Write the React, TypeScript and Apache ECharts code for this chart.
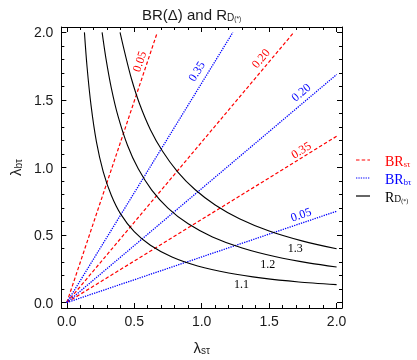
import React, { useEffect, useRef } from "react";
import * as echarts from "echarts";

// ---- data ----
const majorTicks = [0, 0.5, 1, 1.5, 2];
const tickLabels = ["0.0", "0.5", "1.0", "1.5", "2.0"];
const minorTicks = [0.1, 0.2, 0.3, 0.4, 0.6, 0.7, 0.8, 0.9, 1.1, 1.2, 1.3, 1.4, 1.6, 1.7, 1.8, 1.9];

// BR_sτ contours (straight lines from origin): label + end point
const brSLabels = ["0.05", "0.20", "0.35"];
const brSEnds = [[0.671, 2.0], [1.683, 2.0], [2.0, 1.231]];

// BR_bτ contours
const brBLabels = ["0.35", "0.20", "0.05"];
const brBEnds = [[1.231, 2.0], [2.0, 1.688], [2.0, 0.676]];

// R_D(*) contours
const rdLabels = ["1.1", "1.2", "1.3"];
const rd11 = [[0.131, 2.0], [0.15, 1.75], [0.18, 1.46], [0.22, 1.19], [0.27, 0.97], [0.33, 0.795], [0.40, 0.655], [0.50, 0.525], [0.62, 0.424], [0.78, 0.337], [0.97, 0.271], [1.2, 0.219], [1.45, 0.181], [1.72, 0.153], [2.0, 0.133]];
const rd12 = [[0.262, 2.0], [0.29, 1.81], [0.33, 1.59], [0.38, 1.38], [0.45, 1.165], [0.53, 0.99], [0.63, 0.833], [0.75, 0.70], [0.9, 0.583], [1.08, 0.486], [1.3, 0.404], [1.55, 0.339], [1.8, 0.292], [2.0, 0.264]];
const rd13 = [[0.395, 2.0], [0.43, 1.85], [0.48, 1.655], [0.54, 1.47], [0.62, 1.28], [0.71, 1.12], [0.82, 0.97], [0.95, 0.837], [1.1, 0.723], [1.28, 0.621], [1.5, 0.53], [1.75, 0.455], [2.0, 0.398]];
const rdCurves = [rd11, rd12, rd13];

// ---- layout (label anchor positions in data coords) ----
const brSLabelPos = [[0.538, 1.784], [1.438, 1.807], [1.736, 1.129]];
const brBLabelPos = [[0.962, 1.712], [1.736, 1.557], [1.736, 0.652]];
const rdLabelPos = [[1.295, 0.141], [1.49, 0.283], [1.693, 0.402]];

const AX_MIN = -0.04;
const AX_MAX = 2.04;
const RED = "#ff0000";
const BLUE = "#0000ff";
const INK = "#1a1a1a";
const SERIF = "'Liberation Serif', 'DejaVu Serif', serif";
const SANS = "'Liberation Sans', Arial, sans-serif";
const RED_DASH = [3.5, 2.2];
const BLUE_DOT = [1.3, 1.1];

function angleOf(end: number[]) {
  return (Math.atan2(end[1], end[0]) * 180) / Math.PI;
}

const subRich = (size: number, sub: number) => ({
  l: { fontSize: size, fontFamily: SANS, color: INK, lineHeight: 20, verticalAlign: "bottom", fontWeight: "normal" },
  s: { fontSize: sub, fontFamily: SANS, color: INK, lineHeight: 12, verticalAlign: "bottom", fontWeight: "normal" },
});

function makeAxes(dim: "x" | "y") {
  const posMain = dim === "x" ? "bottom" : "left";
  const posOpp = dim === "x" ? "top" : "right";
  const base = (position: string, ticks: number[], len: number, labels: boolean, line: boolean) => ({
    type: "value",
    position,
    min: AX_MIN,
    max: AX_MAX,
    axisLine: { show: line, onZero: false, lineStyle: { color: "#000", width: 1 } },
    axisTick: { show: true, inside: true, length: len, customValues: ticks, lineStyle: { color: "#000", width: 1 } },
    axisLabel: labels
      ? {
          show: true,
          customValues: majorTicks,
          formatter: (v: number) => tickLabels[majorTicks.indexOf(v)] ?? "",
          color: INK,
          fontSize: 14,
          fontFamily: SANS,
          margin: dim === "x" ? 6 : 8,
        }
      : { show: false },
    splitLine: { show: false },
    minorTick: { show: false },
  });
  const main: any = base(posMain, majorTicks, 5, true, true);
  main.name = dim === "x" ? "{l|λ}{s|sτ}" : "{l|λ}{s|bτ}";
  main.nameLocation = "middle";
  main.nameGap = dim === "x" ? 27 : 32;
  if (dim === "y") main.nameRotate = 90;
  main.nameTextStyle = { rich: subRich(15, 10) };
  return [
    main,
    base(posMain, minorTicks, 3, false, false),
    base(posOpp, majorTicks, 5, false, true),
    base(posOpp, minorTicks, 3, false, false),
  ];
}

function lineSeries(name: string, ends: number[][], labels: string[], pos: number[][], color: string, dash: number[], width: number) {
  return ends.map((end, i) => ({
    type: "line",
    name,
    xAxisIndex: 0,
    yAxisIndex: 0,
    data: [[0, 0], end],
    showSymbol: false,
    symbol: "none",
    silent: true,
    lineStyle: { color, width, type: dash },
    itemStyle: { color },
    markPoint: {
      symbol: "circle",
      symbolSize: 0,
      silent: true,
      data: [
        {
          coord: pos[i],
          label: {
            show: true,
            position: "inside",
            formatter: labels[i],
            rotate: angleOf(end),
            color,
            fontFamily: SERIF,
            fontSize: 12,
          },
        },
      ],
    },
  }));
}

function legendRow(y: number, color: string, dash: any, text: string, rich: any) {
  return [
    {
      type: "line",
      shape: { x1: 356, y1: y, x2: 370, y2: y },
      style: { stroke: color, lineWidth: 1.2, lineDash: dash },
      silent: true,
    },
    {
      type: "text",
      x: 385,
      y,
      style: { text, rich, fill: color, verticalAlign: "middle", align: "left" },
      silent: true,
    },
  ];
}

const legRich = (color: string) => ({
  b: { fill: color, fontSize: 14, fontFamily: SERIF, lineHeight: 16, verticalAlign: "bottom" },
  s: { fill: color, fontSize: 8.5, fontFamily: SERIF, lineHeight: 10, verticalAlign: "bottom" },
  d: { fill: color, fontSize: 9.5, fontFamily: SERIF, lineHeight: 11, verticalAlign: "bottom" },
  p: { fill: color, fontSize: 6, fontFamily: SERIF, lineHeight: 15, verticalAlign: "bottom" },
});

export default function App() {
  const ref = useRef<HTMLDivElement>(null);
  useEffect(() => {
    if (!ref.current) return;
    const chart = echarts.init(ref.current, null, { renderer: "svg" });
    const series: any[] = [
      ...lineSeries("BRs", brSEnds, brSLabels, brSLabelPos, RED, RED_DASH, 1.2),
      ...lineSeries("BRb", brBEnds, brBLabels, brBLabelPos, BLUE, BLUE_DOT, 1.3),
      ...rdCurves.map((pts, i) => ({
        type: "line",
        name: "RD",
        xAxisIndex: 0,
        yAxisIndex: 0,
        data: pts,
        showSymbol: false,
        symbol: "none",
        smooth: 0.3,
        silent: true,
        lineStyle: { color: "#000", width: 1.1, type: "solid" },
        itemStyle: { color: "#000" },
        markPoint: {
          symbol: "circle",
          symbolSize: 0,
          silent: true,
          data: [
            {
              coord: rdLabelPos[i],
              label: { show: true, position: "inside", formatter: rdLabels[i], color: "#000", fontFamily: SERIF, fontSize: 12 },
            },
          ],
        },
      })),
    ];
    chart.setOption({
      animation: false,
      title: {
        text: "{a|BR(Δ) and R}{b|D}{c|(*)}",
        left: 142,
        top: 2,
        padding: 0,
        textStyle: {
          fontWeight: "normal",
          rich: {
            a: { fontSize: 15, fontFamily: SANS, color: INK, lineHeight: 20, verticalAlign: "bottom", fontWeight: "normal" },
            b: { fontSize: 10, fontFamily: SANS, color: INK, lineHeight: 13, verticalAlign: "bottom", fontWeight: "normal" },
            c: { fontSize: 6.5, fontFamily: SANS, color: INK, lineHeight: 17, verticalAlign: "bottom", fontWeight: "normal" },
          },
        },
      },
      grid: { left: 51, right: 75, top: 27, bottom: 41, containLabel: false },
      xAxis: makeAxes("x"),
      yAxis: makeAxes("y"),
      graphic: [
        ...legendRow(160, RED, RED_DASH, "{b|BR}{s|sτ}", legRich(RED)),
        ...legendRow(178, BLUE, BLUE_DOT, "{b|BR}{s|bτ}", legRich(BLUE)),
        ...legendRow(196, "#000", null, "{b|R}{d|D}{p|(*)}", legRich("#000")),
      ],
      series,
    });
    return () => chart.dispose();
  }, []);
  return <div ref={ref} style={{ position: "fixed", left: 0, top: 0, width: 417, height: 360 }} />;
}
